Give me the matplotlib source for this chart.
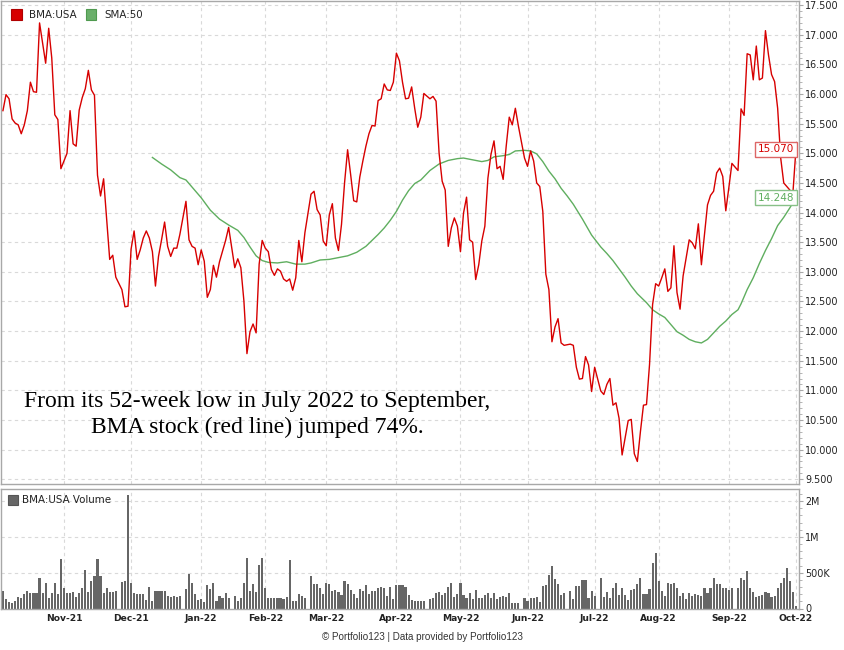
"""
BMA:USA daily close with 50-day SMA and volume panel, Portfolio123 style.
One x slot per weekday (Oct-21 .. Oct-22); market holidays are left as empty slots.
"""
import numpy as np
import pandas as pd
import matplotlib; matplotlib.use('Agg')
import matplotlib.pyplot as plt
from matplotlib.patches import Rectangle
from matplotlib.ticker import MultipleLocator, FormatStrFormatter
from matplotlib.transforms import blended_transform_factory

W, H = 845, 650
days = pd.bdate_range('2021-10-01', '2022-10-03')   # 262 weekday slots

# --- close price (USD), one per weekday slot, None = holiday / no data ---
price = [
    None, 15.72, 15.99, 15.92, 15.58, 15.51, 15.48, 15.33, 15.48, 15.72,
    16.20, 16.04, 16.03, 17.20, 16.86, 16.52, 17.11, 16.61, 15.65, 15.57,
    14.74, 14.87, 15.00, 15.72, 15.16, 15.12, 15.73, 15.94, 16.09, 16.40,
    16.07, 15.98, 14.63, 14.28, 14.57, 13.90, 13.21, 13.28, 12.91, None,
    12.70, 12.41, 12.42, 13.38, 13.69, 13.21, 13.37, 13.57, 13.69, 13.57,
    13.34, 12.76, 13.26, 13.54, 13.84, 13.43, 13.26, 13.40, 13.40, 13.63,
    None, 14.19, 13.54, 13.43, 13.40, 13.12, 13.37, 13.18, 12.57, 12.70,
    13.11, 12.91, 13.17, 13.35, 13.53, 13.75, None, 13.07, 13.22, 13.07,
    12.51, 11.62, 11.99, 12.12, 11.97, 13.13, 13.53, 13.40, 13.34, 13.04,
    12.94, 13.05, 13.01, 12.88, 12.84, 12.88, 12.69, 12.90, 13.53, 13.17,
    13.66, None, 14.31, 14.36, 14.05, 13.96, 13.52, 13.44, 13.96, 14.15,
    13.57, 13.36, 13.80, 14.50, 15.06, 14.64, 14.20, 14.18, 14.60, 14.87,
    15.12, 15.33, 15.47, 15.46, 15.89, 15.92, 16.17, 16.07, 16.06, 16.20,
    16.69, 16.56, 16.20, 15.92, 15.93, 16.12, 15.76, 15.44, 15.61, 16.01,
    None, 15.92, 15.96, 15.88, 15.00, 14.53, 14.38, 13.43, 13.74, 13.91,
    13.77, 13.34, 13.99, 14.26, 13.54, 13.50, 12.87, 13.12, 13.52, 13.77,
    14.58, 14.98, 15.21, 14.74, 14.78, 14.56, 15.12, 15.61, 15.48, 15.76,
    15.46, None, 14.92, 14.78, 15.04, 14.87, 14.50, 14.44, 14.02, 12.96,
    12.70, 11.82, 12.07, 12.21, 11.80, 11.76, None, 11.78, 11.76, 11.39,
    11.19, 11.20, 11.57, 11.43, 10.98, 11.39, None, 10.99, 10.93, 11.10,
    11.20, 10.75, 10.79, 10.53, 9.91, 10.20, 10.49, 10.51, 9.93, 9.80,
    10.30, 10.75, 10.76, 11.44, 12.45, 12.80, 12.76, 12.90, 13.05, 12.67,
    12.73, 13.44, 12.65, 12.37, 12.93, 13.24, 13.54, 13.49, 13.39, 13.81,
    13.12, 13.62, 14.13, 14.29, 14.36, 14.67, 14.75, 14.61, 14.03, 14.42,
    14.83, None, 14.71, 15.75, 15.64, 16.68, 16.66, 16.24, 16.81, 16.24,
    16.27, 17.07, 16.66, 16.33, 16.21, 15.76, 14.92, 14.50, 14.44, 14.38,
    14.33, 15.07,
]

# --- daily volume, millions of shares ---
volume_m = [
    None, 0.25, 0.13, 0.09, 0.07, 0.11, 0.16, 0.15, 0.20, 0.24,
    0.21, 0.22, 0.22, 0.42, 0.21, 0.35, 0.15, 0.21, 0.35, 0.20,
    0.69, 0.29, 0.21, 0.22, 0.23, 0.16, 0.21, 0.29, 0.54, 0.23,
    0.38, 0.45, 0.69, 0.46, 0.21, 0.28, 0.23, 0.23, 0.25, None,
    0.37, 0.38, 1.59, 0.35, 0.21, 0.20, 0.20, 0.20, 0.12, 0.30,
    0.11, 0.24, 0.24, 0.24, 0.25, 0.18, 0.16, 0.17, 0.16, 0.18,
    None, 0.27, 0.48, 0.36, 0.20, 0.12, 0.13, 0.09, 0.33, 0.27,
    0.36, 0.11, 0.17, 0.14, 0.21, 0.14, None, 0.17, 0.10, 0.14,
    0.35, 0.71, 0.25, 0.34, 0.23, 0.61, 0.71, 0.28, 0.14, 0.15,
    0.15, 0.15, 0.15, 0.13, 0.16, 0.68, 0.11, 0.10, 0.20, 0.17,
    0.15, None, 0.46, 0.34, 0.34, 0.28, 0.20, 0.35, 0.34, 0.25,
    0.26, 0.23, 0.19, 0.39, 0.34, 0.26, 0.20, 0.14, 0.27, 0.25,
    0.33, 0.20, 0.25, 0.25, 0.29, 0.30, 0.28, 0.18, 0.30, 0.13,
    0.33, 0.33, 0.33, 0.30, 0.19, 0.12, 0.11, 0.11, 0.11, 0.11,
    None, 0.13, 0.14, 0.22, 0.23, 0.19, 0.21, 0.30, 0.36, 0.16,
    0.20, 0.36, 0.19, 0.15, 0.21, 0.13, 0.26, 0.15, 0.15, 0.19,
    0.21, 0.15, 0.21, 0.13, 0.16, 0.17, 0.16, 0.22, 0.07, 0.08,
    0.08, None, 0.14, 0.10, 0.14, 0.14, 0.16, 0.09, 0.32, 0.33,
    0.47, 0.59, 0.41, 0.34, 0.19, 0.22, None, 0.24, 0.13, 0.31,
    0.31, 0.40, 0.40, 0.14, 0.24, 0.17, None, 0.43, 0.16, 0.23,
    0.14, 0.28, 0.35, 0.19, 0.28, 0.19, 0.12, 0.26, 0.27, 0.34,
    0.43, 0.20, 0.20, 0.27, 0.63, 0.78, 0.39, 0.25, 0.17, 0.35,
    0.34, 0.35, 0.28, 0.17, 0.22, 0.13, 0.21, 0.18, 0.20, 0.19,
    0.17, 0.29, 0.21, 0.29, 0.42, 0.34, 0.34, 0.29, 0.29, 0.26,
    0.29, None, 0.28, 0.42, 0.40, 0.53, 0.28, 0.23, 0.16, 0.17,
    0.19, 0.23, 0.21, 0.16, 0.18, 0.29, 0.35, 0.42, 0.57, 0.38,
    0.23, 0.04,
]

# --- SMA:50 at these weekday slots ---
sma_pos = [50, 53, 56, 59, 61, 63, 66, 69, 72, 75, 78, 80, 82, 84, 86, 88,
           91, 94, 97, 100, 102, 105, 108, 111, 114, 117, 120, 122, 124, 126,
           128, 130, 132, 134, 136, 138, 141, 144, 147, 150, 152, 155, 158,
           160, 162, 165, 167, 169, 172, 174, 176, 178, 180, 182, 184, 186,
           188, 191, 194, 197, 199, 201, 203, 205, 207, 209, 212, 214, 216,
           218, 220, 222, 224, 226, 228, 230, 232, 234, 236, 238, 240, 242,
           243, 245, 247, 249, 251, 253, 255, 257, 259, 261]
sma_val = [14.93, 14.82, 14.72, 14.59, 14.55, 14.43, 14.25, 14.04, 13.89,
           13.79, 13.70, 13.58, 13.42, 13.27, 13.19, 13.16, 13.15, 13.17,
           13.13, 13.13, 13.15, 13.20, 13.21, 13.24, 13.27, 13.33, 13.43,
           13.53, 13.63, 13.74, 13.87, 14.02, 14.21, 14.37, 14.49, 14.55,
           14.71, 14.82, 14.88, 14.91, 14.92, 14.89, 14.86, 14.88, 14.94,
           14.96, 14.98, 15.04, 15.05, 15.04, 14.99, 14.86, 14.70, 14.57,
           14.41, 14.28, 14.14, 13.89, 13.62, 13.42, 13.31, 13.19, 13.05,
           12.91, 12.76, 12.63, 12.48, 12.36, 12.29, 12.23, 12.11, 11.99,
           11.93, 11.86, 11.82, 11.80, 11.86, 11.97, 12.08, 12.17, 12.28,
           12.36, 12.46, 12.70, 12.90, 13.14, 13.36, 13.56, 13.78, 13.92,
           14.08, 14.25]

last_price, last_sma = 15.070, 14.248
note = ['From its 52-week low in July 2022 to September,',
        'BMA stock (red line) jumped 74%.']

RED, GREEN, BAR, GRID, FRAME = '#d70000', '#5fae5f', '#666666', '#d9d9d9', '#a8a8a8'

x = np.arange(len(days))
p = np.array([np.nan if v is None else v for v in price])
v = np.array([np.nan if q is None else q for q in volume_m])
okp, okv = ~np.isnan(p), ~np.isnan(v)

# first weekday of every month (skip Oct-21, which sits on the left edge)
per = days.to_period('M')
mstart = np.flatnonzero(np.r_[True, per[1:] != per[:-1]])[1:]
mlabels = days[mstart].strftime('%b-%y')

fig = plt.figure(figsize=(W / 100, H / 100), dpi=100)

def box(l, t, r, b):   # pixel box -> figure fraction
    return [l / W, 1 - b / H, (r - l) / W, (b - t) / H]

ax = fig.add_axes(box(1, 1, 799, 484))
axv = fig.add_axes(box(1, 489, 799, 608.5), sharex=ax)

# ---- price panel ----
ax.plot(x[okp], p[okp], color=RED, lw=1.0, zorder=3)
ax.plot(sma_pos, sma_val, color=GREEN, lw=1.0, zorder=2)
ax.set_xlim(0.36, 262.0)
ax.set_ylim(9.42, 17.57)
ax.yaxis.tick_right()
ax.set_yticks(np.arange(9.5, 17.51, 0.5))
ax.yaxis.set_major_formatter(FormatStrFormatter('%.3f'))
ax.yaxis.set_minor_locator(MultipleLocator(0.1))
ax.set_xticks(mstart)
ax.tick_params(axis='x', length=0, labelbottom=False)

# ---- volume panel ----
axv.bar(x[okv], v[okv], width=0.72, color=BAR, lw=0, zorder=2)
axv.set_ylim(0, 1.67)
axv.yaxis.tick_right()
axv.set_yticks([0, 0.5, 1.0, 1.5])
axv.set_yticklabels(['0', '500K', '1M', '2M'])
axv.yaxis.set_minor_locator(MultipleLocator(0.1))
axv.set_xticks(mstart)
axv.set_xticklabels(mlabels)
axv.tick_params(axis='x', length=0, pad=4, labelsize=6.6, labelcolor='#222222')
for lab in axv.get_xticklabels():
    lab.set_fontweight('bold')

for a in (ax, axv):
    a.grid(True, which='major', ls=(0, (3, 3)), color=GRID, lw=0.8, zorder=0)
    a.tick_params(axis='y', which='major', direction='out', length=3, width=0.8,
                  color=FRAME, pad=1.5, labelsize=6.9, labelcolor='#222222')
    a.tick_params(axis='y', which='minor', direction='out', length=2, width=0.6,
                  color=FRAME)
    for s in a.spines.values():
        s.set_color(FRAME)
        s.set_linewidth(1.0)

# ---- last-value boxes on the right edge ----
tr = blended_transform_factory(ax.transAxes, ax.transData)
ax.text(0.994, last_price, f'{last_price:.3f}', transform=tr, ha='right', va='center',
        fontsize=7.5, color=RED, zorder=5,
        bbox=dict(boxstyle='square,pad=0.25', fc='white', ec='#dd6666', lw=1.0))
ax.text(0.994, last_sma, f'{last_sma:.3f}', transform=tr, ha='right', va='center',
        fontsize=7.5, color=GREEN, zorder=5,
        bbox=dict(boxstyle='square,pad=0.25', fc='white', ec='#88c088', lw=1.0))

# ---- legends drawn by hand (pixel positions) ----
def square(l, t, size, color, edge):
    fig.add_artist(Rectangle((l / W, 1 - (t + size) / H), size / W, size / H,
                             transform=fig.transFigure, fc=color, ec=edge, lw=0.8))

square(11, 9.5, 10.5, RED, '#b00000')
fig.text(29 / W, 1 - 15 / H, 'BMA:USA', fontsize=7.4, va='center', color='#222222')
square(86, 9.5, 10.5, '#6aaf6a', '#4f9a4f')
fig.text(104 / W, 1 - 15 / H, 'SMA:50', fontsize=7.4, va='center', color='#222222')
square(8, 495, 9.5, BAR, '#555555')
fig.text(22 / W, 1 - 500 / H, 'BMA:USA Volume', fontsize=7.4, va='center', color='#222222')

# ---- annotation ----
for line, base in zip(note, (407, 433)):
    fig.text(257 / W, 1 - base / H, line, ha='center', va='baseline',
             fontsize=17, family='Liberation Serif', color='black')

fig.text(422 / W, 1 - 637 / H, '© Portfolio123 | Data provided by Portfolio123',
         ha='center', va='center', fontsize=7.1, family='Liberation Sans', color='#333333')

fig.savefig('out.png', dpi=100)
